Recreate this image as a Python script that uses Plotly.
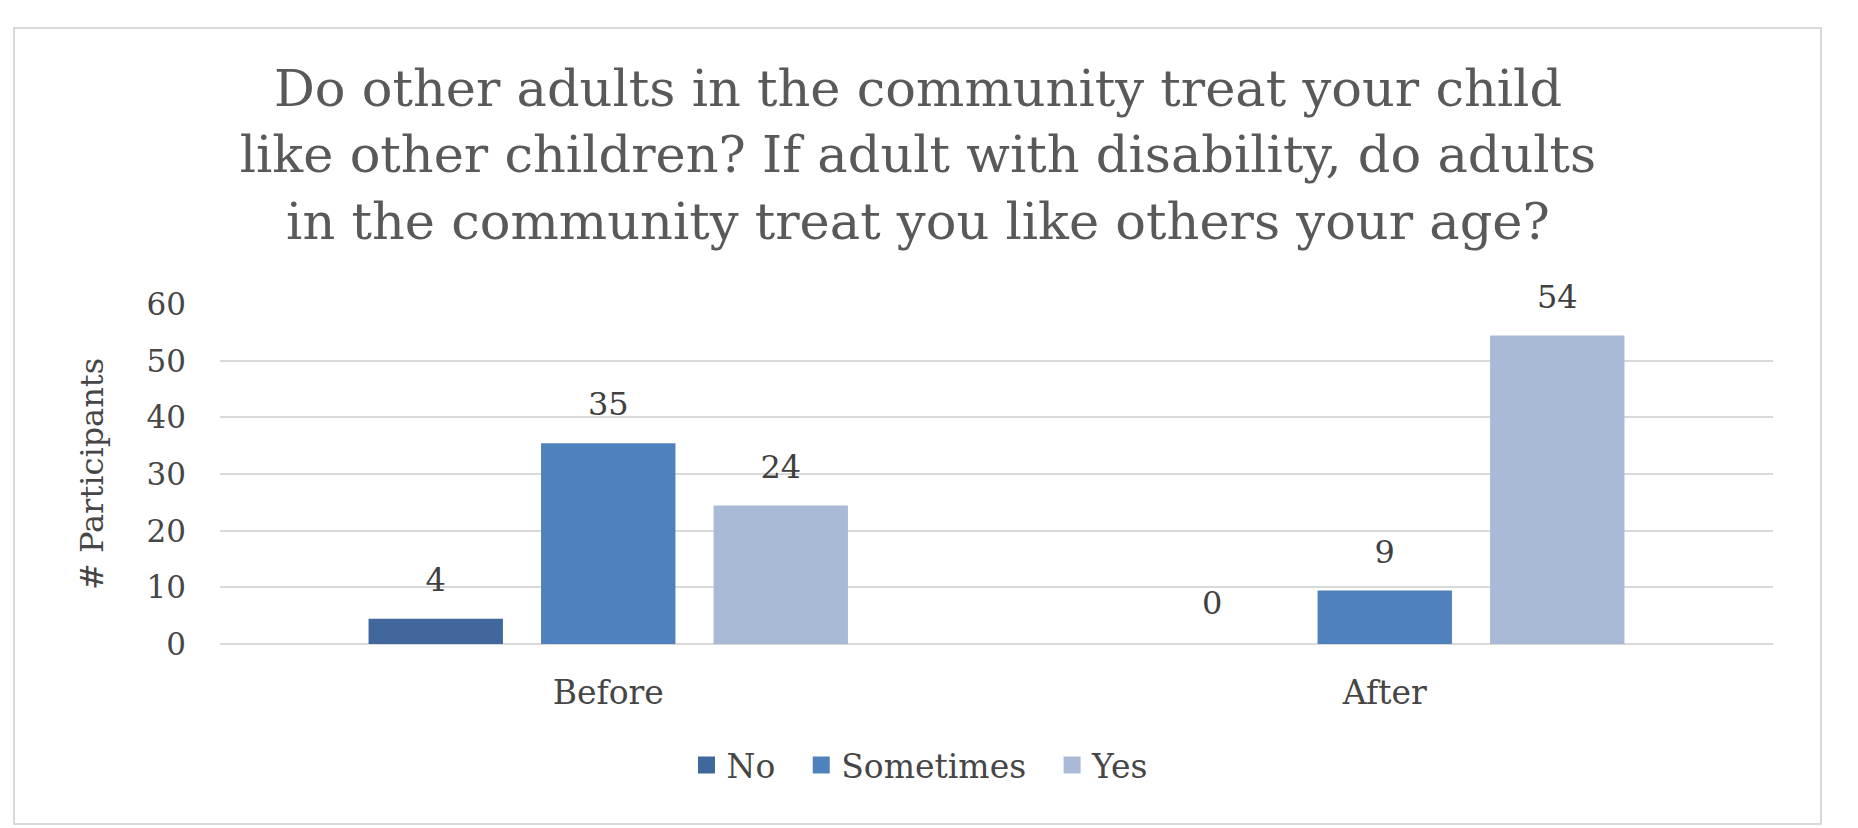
# Survey responses before / after, grouped bar chart
import plotly.graph_objects as go

# data
categories = ["Before", "After"]
no_counts = [4, 0]
sometimes_counts = [35, 9]
yes_counts = [24, 54]
series_names = ["No", "Sometimes", "Yes"]
series_colors = ["#41689c", "#4f81bd", "#a9bad7"]
y_ticks = [0, 10, 20, 30, 40, 50, 60]

title_text = ("Do other adults in the community treat your child<br>"
              "like other children? If adult with disability, do adults<br>"
              "in the community treat you like others your age?")

title_color = "#595959"
text_color = "#464646"
grid_color = "#d9d9d9"
font_family = "DejaVu Serif"

series_values = [no_counts, sometimes_counts, yes_counts]

fig = go.Figure()

# bars (outline in same colour makes the legend squares bigger)
for i, (name, vals, color) in enumerate(zip(series_names, series_values, series_colors)):
    # a little padding after the legend entries, like the original legend
    pad = "\u00a0\u00a0" if i < len(series_names) - 1 else ""
    fig.add_trace(go.Bar(
        name=name + pad, x=categories, y=vals,
        marker=dict(color=color,
                    line=dict(color=color, width=[5 if v > 0 else 0 for v in vals])),
        hovertemplate=name + ": %{y}<extra></extra>",
    ))

# value labels, grouped the same way as the bars
for name, vals in zip(series_names, series_values):
    fig.add_trace(go.Scatter(
        x=categories, y=vals, mode="markers+text",
        text=[str(v) for v in vals], textposition="top center",
        textfont=dict(family=font_family, size=32, color="#404040"),
        marker=dict(size=34, color="rgba(0,0,0,0)"),
        showlegend=False, hoverinfo="skip", cliponaxis=False,
    ))

fig.update_layout(
    width=1858, height=828,
    paper_bgcolor="white", plot_bgcolor="white",
    margin=dict(l=212, r=93, t=296, b=192),
    barmode="group", bargap=0.3335, bargroupgap=0.25,
    scattermode="group", scattergap=0.3335,
    font=dict(family=font_family, color=text_color),
    title=dict(text=title_text, x=910 / 1858, xanchor="center",
               y=1 - 98 / 828, yanchor="middle",
               font=dict(family=font_family, size=51, color=title_color)),
    legend=dict(orientation="h", xref="container", yref="container",
                x=912 / 1858, xanchor="center", y=1 - 757 / 828, yanchor="middle",
                font=dict(family=font_family, size=33, color=text_color),
                traceorder="normal", itemwidth=30),
    xaxis=dict(showgrid=False, showline=False, zeroline=False,
               tickfont=dict(family=font_family, size=33, color=text_color),
               ticklabelstandoff=26),
    yaxis=dict(range=[0, 60], tickvals=y_ticks, showgrid=True,
               gridcolor=grid_color, gridwidth=2, zeroline=True,
               zerolinecolor=grid_color, zerolinewidth=2, showline=False,
               tickfont=dict(family=font_family, size=31, color=text_color),
               ticklabelstandoff=33,
               title=dict(text="# Participants", standoff=33,
                          font=dict(family=font_family, size=32, color=text_color))),
    shapes=[dict(type="rect", xref="paper", yref="paper",
                 x0=(6 - 212) / 1553, x1=(1813 - 212) / 1553,
                 y0=(636 - 816) / 340, y1=(636 - 20) / 340,
                 line=dict(color=grid_color, width=2), fillcolor="rgba(0,0,0,0)",
                 layer="below")],
)

fig.write_html("out.html")
